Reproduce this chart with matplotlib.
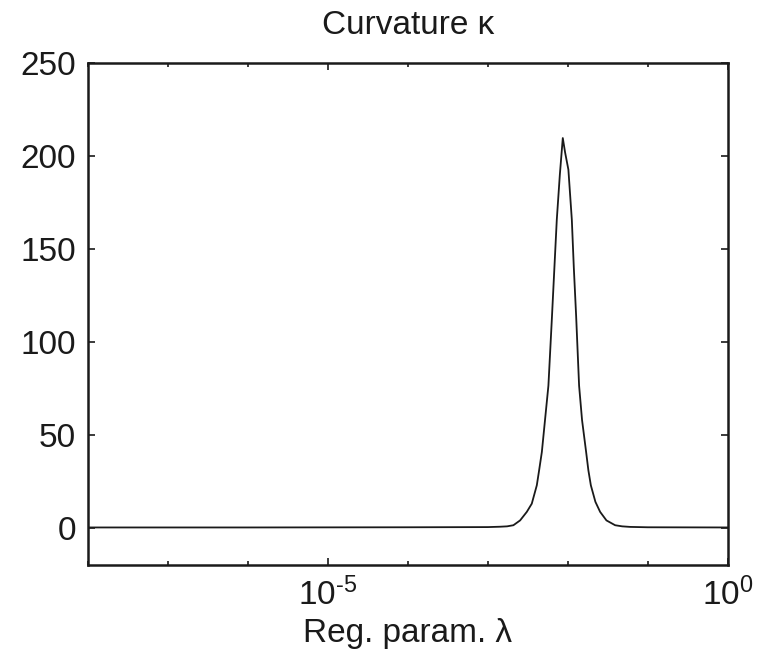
import matplotlib
matplotlib.use("Agg")
import matplotlib.pyplot as plt
from matplotlib.ticker import FixedLocator, NullFormatter

# Data (regularization parameter vs curvature)
log_lam = [-8.0, -6.0, -4.0, -3.0,
           -2.847, -2.760, -2.681, -2.597, -2.513, -2.451, -2.388, -2.359,
           -2.325, -2.243, -2.200, -2.168, -2.138, -2.100, -2.063, -2.034,
           -1.993, -1.950, -1.925, -1.896, -1.859, -1.822, -1.771, -1.743,
           -1.712, -1.655, -1.596, -1.517, -1.408, -1.320, -1.220, -1.0, 0.0]
kappa = [0.2, 0.2, 0.3, 0.4,
         0.6, 0.8, 1.4, 4.0, 8.6, 13.0, 22.9, 31.0,
         40.8, 76.5, 112.3, 140.0, 165.9, 190.0, 209.8, 202.0,
         192.8, 165.9, 140.0, 114.0, 76.5, 58.0, 40.8, 31.0,
         22.9, 14.0, 8.6, 4.0, 1.4, 0.8, 0.5, 0.3, 0.2]
lam = [10.0 ** v for v in log_lam]

xmajor = [1e-5, 1e0]
xmajor_labels = ['10$^{\\mathregular{\u20105}}$', '10$^{\\mathregular{0}}$']
xminor = [1e-8, 1e-7, 1e-6, 1e-4, 1e-3, 1e-2, 1e-1]
yticks = [0, 50, 100, 150, 200, 250]

plt.rcParams['font.family'] = ['Liberation Sans', 'DejaVu Sans']
plt.rcParams['mathtext.fontset'] = 'custom'
plt.rcParams['mathtext.rm'] = 'Liberation Sans'
plt.rcParams['mathtext.it'] = 'Liberation Sans:italic'
plt.rcParams['axes.unicode_minus'] = False

fig = plt.figure(figsize=(7.63, 6.68), dpi=100)
ax = fig.add_axes([0.1157, 0.1542, 0.9537 - 0.1157, 0.9052 - 0.1542])

ax.plot(lam, kappa, color='#1a1a1a', lw=1.3)
ax.set_xscale('log')
ax.set_xlim(1e-8, 1e0)
ax.set_ylim(-20, 250)

ax.xaxis.set_major_locator(FixedLocator(xmajor))
ax.set_xticklabels(xmajor_labels)
ax.xaxis.set_minor_locator(FixedLocator(xminor))
ax.xaxis.set_minor_formatter(NullFormatter())
ax.set_yticks(yticks)

ax.tick_params(which='both', direction='in', top=True, right=True,
               labelsize=24, colors='#1a1a1a', width=1.2)
ax.tick_params(which='major', length=5, pad=9)
ax.tick_params(which='minor', length=3)
for s in ax.spines.values():
    s.set_linewidth(1.8)
    s.set_color('#1a1a1a')

ax.set_title('Curvature κ', fontsize=24, pad=21, color='#1a1a1a')
ax.set_xlabel('Reg. param. λ', fontsize=24, labelpad=4, color='#1a1a1a')

fig.savefig('out.png', dpi=100)
